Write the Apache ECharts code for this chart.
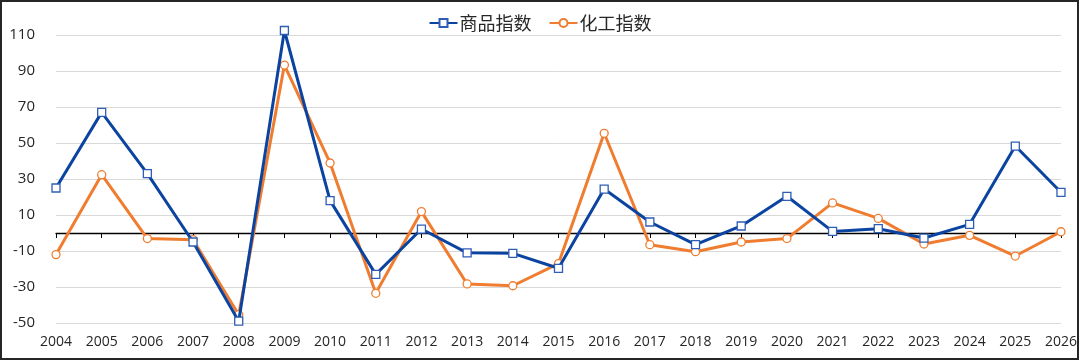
<!DOCTYPE html>
<html><head><meta charset="utf-8">
<script src="https://cdn.jsdelivr.net/npm/echarts@6/dist/echarts.min.js"></script>
<style>html,body{margin:0;padding:0;background:#fff}#c{width:1080px;height:361px}</style>
</head><body><div id="c"></div>
<script>
const years = ['2004','2005','2006','2007','2008','2009','2010','2011','2012','2013','2014','2015','2016','2017','2018','2019','2020','2021','2022','2023','2024','2025','2026'];
const commodityIndex = [25, 67, 33, -5, -49, 112.5, 18, -23, 2.2, -11, -11.3, -19.6, 24.4, 6.1, -6.5, 3.9, 20.4, 0.9, 2.4, -2.8, 4.8, 48.3, 22.6];
const chemicalIndex = [-12, 32.4, -3.1, -3.7, -45.4, 93.3, 38.9, -33.5, 11.9, -28.3, -29.3, -17, 55.4, -6.5, -10.4, -5, -3.1, 16.7, 8.1, -6.1, -1.3, -12.8, 0.7];
const seriesNames = ['商品指数', '化工指数'];

const chart = echarts.init(document.getElementById('c'), null, {renderer: 'canvas'});
const labelFont = {fontFamily: '"Open Sans", "Noto Sans", sans-serif', fontSize: 14, color: '#262626'};
chart.setOption({
  animation: false,
  backgroundColor: '#fff',
  graphic: [{type: 'rect', shape: {x: 1, y: 1, width: 1077, height: 358}, style: {fill: null, stroke: '#262626', lineWidth: 2}, z: 100}],
  legend: {
    top: 9, left: 'center', itemWidth: 28, itemHeight: 10, itemGap: 17,
    textStyle: {fontFamily: '"Noto Sans CJK SC", sans-serif', fontSize: 18, color: '#262626', padding: [0, 0, 0, -3]},
    data: seriesNames
  },
  grid: {left: 56, right: 15, top: 35, bottom: 38, containLabel: false},
  xAxis: [
    {type: 'category', data: years, boundaryGap: false,
     axisLine: {onZero: true, lineStyle: {color: '#000', width: 1.3}},
     axisTick: {show: true, inside: false, length: 5, lineStyle: {color: '#000'}},
     axisLabel: {show: false}, splitLine: {show: false}},
    {type: 'category', data: years, boundaryGap: false, position: 'bottom',
     axisLine: {show: false, onZero: false}, axisTick: {show: false},
     axisLabel: Object.assign({margin: 12, showMinLabel: true, showMaxLabel: true, interval: 0}, labelFont),
     splitLine: {show: false}}
  ],
  yAxis: {
    type: 'value', min: -50, max: 110, interval: 20,
    axisLine: {show: false}, axisTick: {show: false},
    axisLabel: Object.assign({margin: 21}, labelFont, {fontSize: 15}),
    splitLine: {lineStyle: {color: '#d9d9d9', width: 1}}
  },
  series: [
    {name: seriesNames[0], type: 'line', data: commodityIndex, xAxisIndex: 0, clip: false,
     symbol: 'rect', symbolSize: 8, z: 3,
     lineStyle: {color: '#0B44A0', width: 3},
     itemStyle: {color: '#ffffff', borderColor: '#2E5DB5', borderWidth: 1.3}},
    {name: seriesNames[1], type: 'line', data: chemicalIndex, xAxisIndex: 0, clip: false,
     symbol: 'circle', symbolSize: 8, z: 2,
     lineStyle: {color: '#F07D2F', width: 3},
     itemStyle: {color: '#ffffff', borderColor: '#F07D2F', borderWidth: 1.3}}
  ]
});
</script></body></html>
